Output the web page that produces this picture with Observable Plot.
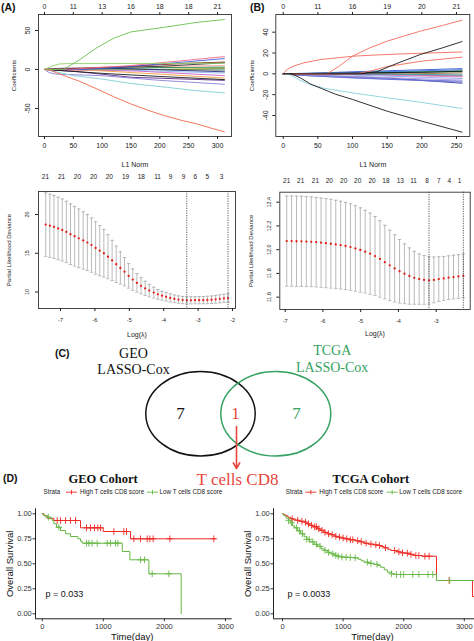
<!DOCTYPE html>
<html><head><meta charset="utf-8">
<script src="https://cdn.jsdelivr.net/npm/d3@7"></script>
<script src="https://cdn.jsdelivr.net/npm/@observablehq/plot@0.6"></script>
<style>
html,body{margin:0;padding:0;background:#fff;}
#fig{position:relative;width:474px;height:641px;overflow:hidden;background:#fff;font-family:"Liberation Sans",Arial,sans-serif;}
.panel{position:absolute;line-height:0;}
.panel svg{max-width:none !important;}
.lab{position:absolute;font-weight:bold;font-size:10.5px;line-height:12px;color:#111;}
</style></head><body><div id="fig"></div>
<script>
// ---------------- DATA ----------------
// (A) LASSO coefficient paths, GEO: [L1 norm, coefficient]
const aPaths = [
  [[0,0],[120,0],[312,0.5]],
  [[0,0],[180,0],[312,-1.5]],
  [[0,0],[200,0],[312,2]],
  [[0,0],[250,0],[312,1]],
  [[0,0],[150,-1],[312,-4.7]],
  [[0,0],[100,1],[200,2.5],[312,3]],
  [[0,0],[30,1.5],[100,2],[312,-3]],
  [[0,0],[100,3],[312,5]],
  [[0,0],[160,-2],[312,-8]],
  [[0,0],[80,-1],[200,-6],[312,-11]],
  [[0,0],[60,-3],[150,-10],[312,-14]],
  [[0,0],[40,-2],[100,-5],[200,-9],[312,-13]],
  [[0,0],[30,1],[100,2],[200,4],[312,8.5]],
  [[0,0],[60,1],[150,4],[250,8],[312,9.5]],
  [[0,0],[70,0],[150,4],[250,10],[312,14]],
  [[0,0],[50,0.5],[150,5],[250,12],[312,16.5]],
  [[0,0],[8,-4],[20,-6],[40,-6.5],[100,-8],[200,-14],[312,-19]],
  [[0,0],[12,4],[25,7],[40,7.5],[150,7.6],[250,7.8],[312,8]],
  [[0,0],[20,-3],[50,-8],[97,-12],[150,-18],[213,-23],[260,-27],[312,-30]],
  [[0,0],[33,0],[60,12],[91,28],[120,40],[149,48],[163,49.5],[207,54],[265,60.5],[312,64]],
  [[0,0],[10,-1],[33,-7.7],[60,-15],[91,-25],[120,-35],[149,-44],[178,-52],[207,-59],[236,-65],[265,-70],[290,-75.5],[312,-80]]
];
const aL1Ticks = [0, 50, 100, 150, 200, 250, 300];
const aDfLabels = [0, 11, 13, 16, 18, 18, 21];
const aCoefTicks = [-50, 0, 50];

// (B) LASSO coefficient paths, TCGA
const bPaths = [
  [[0,0],[20,0],[100,2],[258,5]],
  [[0,0],[30,-1],[150,-4],[258,-9]],
  [[0,0],[15,-1],[100,-4],[258,-8]],
  [[0,0],[40,-2],[150,-5],[258,-7]],
  [[0,0],[60,0.5],[150,2],[258,3]],
  [[0,0],[120,-1],[258,-3]],
  [[0,0],[150,0],[258,-1.5]],
  [[0,0],[50,-1.5],[258,-6]],
  [[0,0],[100,1],[258,2]],
  [[0,0],[70,-0.5],[258,-4.5]],
  [[0,0],[180,0],[258,0.8]],
  [[0,0],[25,0.5],[120,1.5],[258,4]],
  [[0,0],[130,-0.5],[258,-2.2]],
  [[0,0],[90,0],[258,-1]],
  [[0,0],[80,0.5],[200,1.5],[258,2.5]],
  [[0,0],[5,4],[15,7.5],[30,10.6],[54,13.8],[80,15.5],[102,17],[140,18.3],[174,19.2],[220,20.2],[258,21]],
  [[0,0],[63,0],[80,7],[100,17],[125,25],[150,31.4],[175,36.5],[198,41],[230,46.5],[258,51.5]],
  [[0,0],[105,0],[125,2.5],[150,7],[200,12.2],[258,16]],
  [[0,0],[112,0],[135,2],[164,10],[198,18.6],[230,25],[258,31]],
  [[0,0],[10,-1],[25,-6.5],[40,-10.5],[60,-14],[100,-18.3],[150,-23],[200,-27.5],[258,-33.3]],
  [[0,0],[12,0],[25,-4],[40,-10],[55,-14],[75,-19.5],[100,-24.6],[150,-35.9],[200,-45.5],[258,-56]]
];
const bL1Ticks = [0, 50, 100, 150, 200, 250];
const bDfLabels = [0, 11, 16, 19, 20, 21];
const bCoefTicks = [-40, -20, 0, 20, 40];

// (A) cross-validation, GEO
const aLogLambda = [-7.43,-7.31,-7.19,-7.07,-6.95,-6.83,-6.71,-6.59,-6.47,-6.34,-6.22,-6.10,-5.98,-5.86,-5.74,-5.62,-5.50,-5.38,-5.26,-5.14,-5.02,-4.90,-4.78,-4.66,-4.54,-4.42,-4.29,-4.17,-4.05,-3.93,-3.81,-3.69,-3.57,-3.45,-3.33,-3.21,-3.09,-2.97,-2.85,-2.73,-2.61,-2.49,-2.37,-2.25,-2.13];
const aDeviance = [18.70,18.55,18.40,18.20,18.00,17.75,17.45,17.20,16.93,16.65,16.38,16.05,15.68,15.33,15.00,14.55,14.07,13.58,13.10,12.62,12.08,11.60,11.17,10.80,10.47,10.18,9.92,9.70,9.52,9.38,9.24,9.12,9.02,8.96,8.92,8.93,8.94,8.94,8.95,8.97,9.00,9.05,9.12,9.18,9.22];
const aDevSE = [4.10,4.08,4.06,4.03,4.00,3.96,3.91,3.85,3.78,3.70,3.61,3.50,3.38,3.24,3.08,2.85,2.60,2.35,2.08,1.82,1.58,1.38,1.20,1.05,0.92,0.80,0.70,0.63,0.58,0.55,0.52,0.50,0.48,0.47,0.46,0.46,0.46,0.47,0.47,0.48,0.49,0.50,0.52,0.53,0.55];
const aLambdaLines = [-3.33, -2.13];
const aNzLabels = [21,21,20,20,20,19,18,11,9,9,6,5,3];
const aNzAt = [-7.44,-6.97,-6.51,-6.04,-5.58,-5.11,-4.65,-4.18,-3.80,-3.42,-3.08,-2.73,-2.32];
const aLogTicks = [-7,-6,-5,-4,-3,-2];
const aDevTicks = [10, 15, 20];

// (B) cross-validation, TCGA
const bLogLambda = [-6.96,-6.83,-6.70,-6.57,-6.44,-6.31,-6.18,-6.05,-5.92,-5.79,-5.66,-5.53,-5.40,-5.27,-5.14,-5.01,-4.88,-4.75,-4.62,-4.49,-4.36,-4.23,-4.10,-3.97,-3.84,-3.71,-3.58,-3.45,-3.32,-3.19,-3.06,-2.93,-2.80,-2.67,-2.54,-2.41,-2.28];
const bDeviance = [12.072,12.072,12.071,12.070,12.068,12.066,12.063,12.059,12.055,12.050,12.044,12.038,12.031,12.022,12.010,11.997,11.983,11.966,11.946,11.922,11.895,11.868,11.842,11.818,11.797,11.778,11.763,11.752,11.745,11.741,11.745,11.752,11.758,11.764,11.769,11.774,11.780];
const bDevSE = [.380,.380,.380,.380,.379,.378,.377,.376,.375,.374,.372,.370,.367,.364,.360,.355,.349,.342,.333,.322,.310,.297,.283,.268,.252,.237,.223,.212,.205,.200,.193,.188,.185,.184,.184,.184,.185];
const bLambdaLines = [-3.19, -2.28];
const bNzLabels = [21,21,21,20,20,20,20,18,13,11,8,7,4,1];
const bNzAt = [-6.96,-6.59,-6.20,-5.83,-5.45,-5.08,-4.70,-4.33,-3.95,-3.60,-3.24,-2.93,-2.65,-2.38];
const bLogTicks = [-7,-6,-5,-4,-3];
const bDevTicks = [11.6, 11.8, 12.0, 12.2, 12.4];

// (C) Venn
const vennSets = [["GEO", "LASSO-Cox"], ["TCGA", "LASSO-Cox"]];
const vennCounts = [7, 1, 7];
const vennShared = "T cells CD8";

// (D) Kaplan-Meier
const kmStrata = ["High T cells CD8 score", "Low T cells CD8 score"];
const geoHighT = [0, 30, 85, 190, 627, 998, 1445, 2836];
const geoHighS = [1.0, 0.98, 0.955, 0.933, 0.86, 0.823, 0.75, 0.75];
const geoHighCens = [245,300,382,463,545,725,790,856,910,954,1172,1336,1380,1500,1609,1718,1762,1816,2089,2809];
const geoLowT = [0,25,81,136,163,190,234,300,381,463,583,627,654,1310,1435,1746,2275];
const geoLowS = [1.0,0.983,0.966,0.95,0.933,0.90,0.866,0.833,0.80,0.773,0.75,0.726,0.706,0.623,0.54,0.40,0.0];
const geoLowCens = [100,272,725,763,818,900,1063,1118,1200,1238,1609,1674,1800,2073];
const tcgaHighT = [0,20,50,90,137,180,230,280,357,400,450,500,577,620,680,742,800,860,907,960,1017,1100,1200,1270,1347,1420,1500,1568,1620,1678,1740,1788,1880,1950,2007,2100,2173,2300,2541,3135,3450];
const tcgaHighS = [1.0,0.99,0.98,0.965,0.95,0.94,0.935,0.925,0.916,0.90,0.885,0.87,0.85,0.835,0.815,0.80,0.79,0.775,0.766,0.758,0.75,0.74,0.73,0.72,0.706,0.697,0.69,0.683,0.672,0.66,0.645,0.633,0.62,0.61,0.606,0.595,0.583,0.576,0.333,0.173,0.173];
const tcgaHighCens = [160,250,320,380,430,480,530,560,600,650,700,760,820,880,940,1000,1060,1120,1160,1240,1300,1380,1460,1540,1600,1700,1850,1920,1980,2060,2120,2200,2250,2350,2420,2750];
const tcgaLowT = [0,20,45,70,100,130,165,200,250,300,357,400,450,522,580,640,687,740,800,852,900,960,1017,1100,1182,1250,1300,1347,1420,1500,1567,1620,1680,1732,1800,1842,2541,3450];
const tcgaLowS = [1.0,0.985,0.97,0.955,0.935,0.91,0.88,0.86,0.83,0.80,0.77,0.745,0.72,0.695,0.675,0.65,0.635,0.615,0.60,0.585,0.575,0.568,0.566,0.563,0.56,0.545,0.53,0.516,0.505,0.495,0.483,0.465,0.44,0.416,0.40,0.393,0.333,0.333];
const tcgaLowCens = [100,150,230,280,330,400,440,500,560,620,700,760,830,880,920,980,1050,1120,1200,1400,1460,1560,1800,1880,1950,2000,2150,2250,2400,2480,2760];
const kmTimeTicks = [0, 1000, 2000, 3000];
const kmSurvTicks = [0, 0.25, 0.5, 0.75, 1];
const geoP = "p = 0.033";
const tcgaP = "p = 0.0033";

// ---------------- STYLES ----------------
const aColors = ["#2aa7a7","#9a9a9a","#d8c850","#7a8a30","#8fb8ee","#1f7a3e","#23307f","#f5a89a","#c860c8","#f0a040","#5a2a8a","#1a1a1a","#333333","#8b2a1e","#3a5fd9","#f06a8a","#8a7fd6","#8fd16a","#7fd0d6","#6abf4b","#f0694a"];
const bColors = ["#3355cc","#2a3a9a","#7a6cd0","#5a6fd8","#2fa84f","#e78ac3","#8c8c8c","#a995e0","#1d6b3a","#8fa6ee","#9b6a3a","#4a78e8","#c85aa8","#3aa6a6","#111111","#f26b5b","#f26b5b","#f26b5b","#1a1a1a","#88d0dc","#1a1a1a"];
const RED = "#ee2a24", GREEN = "#66b844", VRED = "#e8453c", VGREEN = "#35a263";
const SANS = "'Liberation Sans', Arial, sans-serif", SERIF = "'Liberation Serif', 'Times New Roman', serif";
const baseStyle = {background: "transparent", fontFamily: SANS, fontSize: "7px", color: "#222", overflow: "visible", maxWidth: "none"};

const fig = document.getElementById("fig");
function place(node, left, top) {
  const d = document.createElement("div");
  d.className = "panel"; d.style.left = left + "px"; d.style.top = top + "px";
  const w = node.getAttribute("width");
  if (w) d.style.width = w + "px";
  d.appendChild(node); fig.appendChild(d);
}
function label(txt, left, top) {
  const d = document.createElement("div");
  d.className = "lab"; d.style.left = left + "px"; d.style.top = top + "px";
  d.textContent = txt; fig.appendChild(d);
}

const capSym = {draw(ctx) { ctx.moveTo(-1.7, 0); ctx.lineTo(1.7, 0); }};
const legSym = {draw(ctx) { ctx.moveTo(-5.5, 0); ctx.lineTo(5.5, 0); ctx.moveTo(0, -2.3); ctx.lineTo(0, 2.3); }};

function coefPlot(o) {
  const rows = o.paths.flatMap((p, i) => p.map(([x, y]) => ({id: i, x, y, c: o.colors[i]})));
  return Plot.plot({
    width: o.width, height: 170, marginLeft: o.mL, marginRight: o.mR, marginTop: 14, marginBottom: 34,
    x: {domain: o.xDomain}, y: {domain: o.yDomain}, color: {type: "identity"},
    style: baseStyle,
    marks: [
      Plot.line(rows, {x: "x", y: "y", z: "id", stroke: "c", strokeWidth: 0.9}),
      Plot.frame({stroke: "#333", strokeWidth: 0.9}),
      Plot.axisX({anchor: "bottom", ticks: o.xTicks, tickSize: 3, tickPadding: 4, fontSize: 7, tickFormat: d => String(d), label: null}),
      Plot.axisX({anchor: "top", ticks: o.xTicks, tickSize: 3, tickPadding: 3, fontSize: 7, tickFormat: d => String(o.dfLabels[o.xTicks.indexOf(d)]), label: null}),
      Plot.axisY({ticks: o.yTicks, tickSize: 3, tickFormat: () => "", label: null}),
      Plot.text(o.yTicks, {y: d => d, text: d => String(d), frameAnchor: "left", dx: -10.5, rotate: -90, textAnchor: "middle", lineAnchor: "middle", fontSize: 7}),
      Plot.text(["L1 Norm"], {text: d => d, frameAnchor: "bottom", dy: 28, textAnchor: "middle", lineAnchor: "middle", fontSize: 7}),
      Plot.text(["Coefficients"], {text: d => d, frameAnchor: "left", dx: -24, rotate: -90, textAnchor: "middle", lineAnchor: "middle", fontSize: 6})
    ]
  });
}

function devPlot(o) {
  const rows = o.lam.map((x, i) => ({x, m: o.mean[i], lo: o.mean[i] - o.se[i], hi: o.mean[i] + o.se[i]}));
  const nz = o.nzAt.map((x, i) => ({x, n: String(o.nzLabels[i])}));
  return Plot.plot({
    width: 237, height: 170, marginLeft: o.mL, marginRight: o.mR, marginTop: o.mT, marginBottom: o.mB,
    x: {domain: o.xDomain}, y: {domain: o.yDomain},
    style: baseStyle,
    marks: [
      Plot.ruleX(rows, {x: "x", y1: "lo", y2: "hi", stroke: "#a8a8a8", strokeWidth: 0.8}),
      Plot.dot(rows, {x: "x", y: "hi", symbol: capSym, fill: "none", stroke: "#a8a8a8", strokeWidth: 0.8}),
      Plot.dot(rows, {x: "x", y: "lo", symbol: capSym, fill: "none", stroke: "#a8a8a8", strokeWidth: 0.8}),
      Plot.dot(rows, {x: "x", y: "m", r: 1.15, fill: "#e3211c", stroke: "none"}),
      Plot.ruleX(o.vlines, {x: d => d, stroke: "#333", strokeWidth: 0.8, strokeDasharray: "1.2,1.2"}),
      Plot.frame({stroke: "#333", strokeWidth: 0.9}),
      Plot.axisX({ticks: o.xTicks, tickSize: 3, tickPadding: 7, fontSize: 5.5, tickFormat: d => String(d), label: null}),
      Plot.axisY({ticks: o.yTicks, tickSize: 3, tickFormat: () => "", label: null}),
      Plot.text(o.yTicks, {y: d => d, text: o.yFmt, frameAnchor: "left", dx: -11, rotate: -90, textAnchor: "middle", lineAnchor: "middle", fontSize: 5.5}),
      Plot.text(nz, {x: "x", text: "n", frameAnchor: "top", dy: o.nzDy, textAnchor: "middle", lineAnchor: "middle", fontSize: 6.5}),
      Plot.text(["Log(λ)"], {text: d => d, frameAnchor: "bottom", dy: o.logDy, textAnchor: "middle", lineAnchor: "middle", fontSize: 7}),
      Plot.text(["Partial Likelihood Deviance"], {text: d => d, frameAnchor: "left", dx: -29, rotate: -90, textAnchor: "middle", lineAnchor: "middle", fontSize: 6})
    ]
  });
}

function kmPlot(o) {
  const sAt = (T, S, t) => { let s = S[0]; for (let i = 0; i < T.length; i++) if (T[i] <= t) s = S[i]; return s; };
  const hi = o.hiT.map((t, i) => ({t, s: o.hiS[i]}));
  const lo = o.loT.map((t, i) => ({t, s: o.loS[i]}));
  const hiC = o.hiC.map(t => ({t, s: sAt(o.hiT, o.hiS, t)}));
  const loC = o.loC.map(t => ({t, s: sAt(o.loT, o.loS, t)}));
  const lg = {frameAnchor: "top-left", dy: -16.6, lineAnchor: "middle"};
  return Plot.plot({
    width: o.width, height: 171, marginLeft: o.mL, marginRight: o.mR, marginTop: 38.3, marginBottom: 22.7,
    x: {domain: o.xDomain}, y: {domain: [-0.05, 1.05]},
    style: baseStyle,
    marks: [
      Plot.ruleX([o.xDomain[0]], {x: d => d, stroke: "#222", strokeWidth: 1}),
      Plot.ruleY([-0.05], {y: d => d, stroke: "#222", strokeWidth: 1}),
      Plot.axisX({ticks: kmTimeTicks, tickSize: 3, tickPadding: 1.5, fontSize: 7.5, tickFormat: d => String(d), label: null, color: "#333"}),
      Plot.axisY({ticks: kmSurvTicks, tickSize: 2.5, tickPadding: 1.2, fontSize: 7.5, tickFormat: d3.format(".2f"), label: null, color: "#333"}),
      Plot.line(hi, {x: "t", y: "s", curve: "step-after", stroke: RED, strokeWidth: 1}),
      Plot.line(lo, {x: "t", y: "s", curve: "step-after", stroke: GREEN, strokeWidth: 1}),
      Plot.dot(hiC, {x: "t", y: "s", symbol: "plus", r: 2.3, stroke: RED, strokeWidth: 0.9}),
      Plot.dot(loC, {x: "t", y: "s", symbol: "plus", r: 2.3, stroke: GREEN, strokeWidth: 0.9}),
      Plot.text([o.p], {text: d => d, frameAnchor: "bottom-left", dx: o.pDx, dy: -25, textAnchor: "start", lineAnchor: "middle", fontSize: 9, fill: "#111"}),
      Plot.text(["Overall Survival"], {text: d => d, frameAnchor: "left", dx: -26, rotate: -90, textAnchor: "middle", lineAnchor: "middle", fontSize: 9.5, fill: "#111"}),
      Plot.text(["Time(day)"], {text: d => d, frameAnchor: "bottom-left", dx: o.timeDx, dy: 17.7, textAnchor: "middle", lineAnchor: "middle", fontSize: 9.5, fill: "#111"}),
      Plot.text([o.title], {text: d => d, frameAnchor: "top-left", dx: o.titleDx, dy: -30.3, textAnchor: "start", lineAnchor: "middle", fontSize: 12.5, fontWeight: "bold", fontFamily: SERIF, fill: "#111"}),
      Plot.text(["Strata"], {...lg, text: d => d, dx: o.legDx[0], textAnchor: "start", fontSize: 6.3, fill: "#222"}),
      Plot.dot([0], {frameAnchor: "top-left", dx: o.legDx[1], dy: -16.6, symbol: legSym, fill: "none", stroke: RED, strokeWidth: 0.9}),
      Plot.text([kmStrata[0]], {...lg, text: d => d, dx: o.legDx[2], textAnchor: "start", fontSize: 6.3, fill: "#222"}),
      Plot.dot([0], {frameAnchor: "top-left", dx: o.legDx[3], dy: -16.6, symbol: legSym, fill: "none", stroke: GREEN, strokeWidth: 0.9}),
      Plot.text([kmStrata[1]], {...lg, text: d => d, dx: o.legDx[4], textAnchor: "start", fontSize: 6.3, fill: "#222"})
    ]
  });
}

// ---------------- PANELS ----------------
place(coefPlot({paths: aPaths, colors: aColors, width: 237, mL: 38, mR: 6, xDomain: [-10.4, 324.3], yDomain: [-86, 70.5], xTicks: aL1Ticks, dfLabels: aDfLabels, yTicks: aCoefTicks}), 0, 0);
place(coefPlot({paths: bPaths, colors: bColors, width: 237, mL: 38.3, mR: 4.7, xDomain: [-10.7, 269.2], yDomain: [-60.2, 57], xTicks: bL1Ticks, dfLabels: bDfLabels, yTicks: bCoefTicks}), 237, 0);

place(devPlot({lam: aLogLambda, mean: aDeviance, se: aDevSE, vlines: aLambdaLines, nzLabels: aNzLabels, nzAt: aNzAt,
  mL: 38, mR: 2, mT: 21, mB: 32, xDomain: [-7.64, -1.913], yDomain: [7.87, 22.97], xTicks: aLogTicks, yTicks: aDevTicks,
  yFmt: d => String(d), nzDy: -14.3, logDy: 26}), 0, 170);
place(devPlot({lam: bLogLambda, mean: bDeviance, se: bDevSE, vlines: bLambdaLines, nzLabels: bNzLabels, nzAt: bNzAt,
  mL: 42.3, mR: 4.3, mT: 21.7, mB: 31, xDomain: [-7.143, -2.098], yDomain: [11.496, 12.484], xTicks: bLogTicks, yTicks: bDevTicks,
  yFmt: d3.format(".1f"), nzDy: -11, logDy: 24.3}), 237, 170);

// Venn (layout in page pixels)
const vennLayout = {
  ellipses: [{cx: 200, cy: 413.3, rx: 54.7, ry: 42.3, c: "#111"}, {cx: 275.3, cy: 413.3, rx: 55, ry: 42.3, c: VGREEN}],
  titles: [{x: 133, y: [352.7, 369.3], c: "#111"}, {x: 331.7, y: [350, 366.7], c: VGREEN}],
  counts: [{x: 180, y: 413, c: "#111"}, {x: 235, y: 413, c: VRED}, {x: 296, y: 413, c: VGREEN}],
  arrow: {x: 236, y1: 426, y2: 468}, shared: {x: 237, y: 479}
};
const ellPts = vennLayout.ellipses.flatMap((e, i) => [
  {s: i, x: e.cx, y: e.cy - e.ry, c: e.c}, {s: i, x: e.cx + e.rx, y: e.cy, c: e.c},
  {s: i, x: e.cx, y: e.cy + e.ry, c: e.c}, {s: i, x: e.cx - e.rx, y: e.cy, c: e.c}]);
const titleRows = vennSets.flatMap((lines, i) => lines.map((t, j) => ({t, x: vennLayout.titles[i].x, y: vennLayout.titles[i].y[j], c: vennLayout.titles[i].c})));
const countRows = vennCounts.map((n, i) => ({t: String(n), ...vennLayout.counts[i]}));
place(Plot.plot({
  width: 474, height: 150, marginTop: 0, marginRight: 0, marginBottom: 0, marginLeft: 0,
  x: {domain: [0, 474], range: [0, 474], axis: null}, y: {domain: [340, 490], range: [0, 150], axis: null},
  color: {type: "identity"}, style: {...baseStyle, fontFamily: SERIF},
  marks: [
    Plot.line(ellPts, {x: "x", y: "y", z: "s", stroke: "c", curve: "cardinal-closed", tension: -0.657, strokeWidth: 1.5}),
    Plot.text(titleRows, {x: "x", y: "y", text: "t", fill: "c", fontSize: 14, fontFamily: SERIF}),
    Plot.text(countRows, {x: "x", y: "y", text: "t", fill: "c", fontSize: 17, fontFamily: SERIF}),
    Plot.arrow([vennLayout.arrow], {x1: "x", y1: "y1", x2: "x", y2: "y2", stroke: VRED, strokeWidth: 1.6, headLength: 6}),
    Plot.text([vennShared], {x: () => vennLayout.shared.x, y: () => vennLayout.shared.y, text: d => d, fill: VRED, fontSize: 17, fontFamily: SERIF})
  ]
}), 0, 340);

place(kmPlot({hiT: geoHighT, hiS: geoHighS, hiC: geoHighCens, loT: geoLowT, loS: geoLowS, loC: geoLowCens,
  width: 237, mL: 35, mR: 5.3, xDomain: [-110, 3110], p: geoP, pDx: 10, timeDx: 96.7,
  title: "GEO Cohort", titleDx: 33, legDx: [8, 36, 44.5, 117, 124]}), 0, 470);
place(kmPlot({hiT: tcgaHighT, hiS: tcgaHighS, hiC: tcgaHighCens, loT: tcgaLowT, loS: tcgaLowS, loC: tcgaLowCens,
  width: 260, mL: 36, mR: 0, xDomain: [-148.5, 3548], p: tcgaP, pDx: 14, timeDx: 99,
  title: "TCGA Cohort", titleDx: 59, legDx: [12.3, 37.3, 45.7, 118.7, 125.7]}), 237, 470);

label("(A)", 1, 1);
label("(B)", 250, 1);
label("(C)", 55, 347);
label("(D)", 3, 472);
</script></body></html>
